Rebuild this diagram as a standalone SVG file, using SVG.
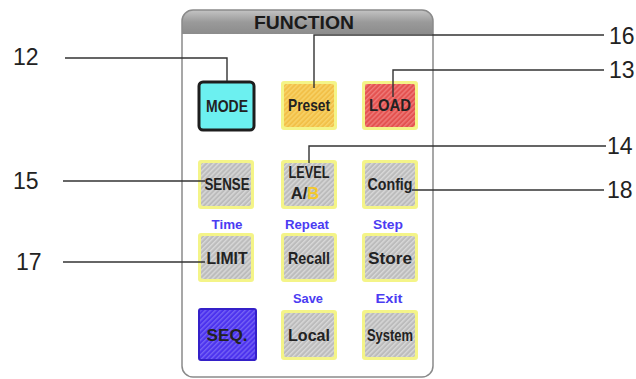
<svg xmlns="http://www.w3.org/2000/svg" width="636" height="379" viewBox="0 0 636 379">
<defs>
<linearGradient id="hdr" x1="0" y1="0" x2="0" y2="1">
<stop offset="0" stop-color="#c4c4c4"/>
<stop offset="0.5" stop-color="#9a9a9a"/>
<stop offset="1" stop-color="#8c8c8c"/>
</linearGradient>
<pattern id="hg" width="3.5" height="3.5" patternUnits="userSpaceOnUse" patternTransform="rotate(45)"><rect width="3.5" height="3.5" fill="#bcbcbc"/><rect width="1.4" height="3.5" fill="#d8d8d8"/></pattern>
<pattern id="hy" width="3.5" height="3.5" patternUnits="userSpaceOnUse" patternTransform="rotate(45)"><rect width="3.5" height="3.5" fill="#f2c048"/><rect width="1.4" height="3.5" fill="#f7d46a"/></pattern>
<pattern id="hr" width="3.5" height="3.5" patternUnits="userSpaceOnUse" patternTransform="rotate(45)"><rect width="3.5" height="3.5" fill="#e45250"/><rect width="1.4" height="3.5" fill="#ee7c7a"/></pattern>
<pattern id="hb" width="3.5" height="3.5" patternUnits="userSpaceOnUse" patternTransform="rotate(45)"><rect width="3.5" height="3.5" fill="#4c32ee"/><rect width="1.4" height="3.5" fill="#7462f4"/></pattern>
<clipPath id="panelclip"><rect x="182" y="10" width="251" height="367" rx="11"/></clipPath>
</defs>
<style>
.glow{fill:#f4f488}
.gray{fill:url(#hg)}
.bt{font-family:"Liberation Sans",Arial,sans-serif;font-weight:bold;font-size:16.5px;fill:#222;text-anchor:middle}
.blue{font-family:"Liberation Sans",Arial,sans-serif;font-weight:bold;font-size:13px;fill:#4b3cf2;text-anchor:middle}
.num{font-family:"Liberation Sans",Arial,sans-serif;font-size:23px;fill:#222}
.lead{fill:none;stroke:#333;stroke-width:1.4}
</style>
<rect width="636" height="379" fill="#fff"/>
<g id="panel">
<rect x="182" y="10" width="251" height="367" rx="11" fill="#fff"/>
<rect x="182" y="10" width="251" height="24" fill="url(#hdr)" clip-path="url(#panelclip)"/>
<rect x="182" y="10" width="251" height="367" rx="11" fill="none" stroke="#8a8a8a" stroke-width="1.5"/>
<text x="304" y="29" font-family="'Liberation Sans',Arial,sans-serif" font-weight="bold" font-size="18" fill="#1a1a1a" text-anchor="middle" textLength="100" lengthAdjust="spacingAndGlyphs">FUNCTION</text>
</g>
<g id="btn-mode">
<rect x="199" y="82" width="55" height="48" rx="4" fill="#6cf0f0" stroke="#1e1e1e" stroke-width="3"/>
<text class="bt" x="227" y="112" textLength="42" lengthAdjust="spacingAndGlyphs">MODE</text>
</g>
<g id="btn-preset">
<rect class="glow" x="281" y="81" width="56" height="49" rx="3"/>
<rect x="284" y="84" width="50" height="43" rx="2" fill="url(#hy)"/>
<text class="bt" x="309" y="111" textLength="42" lengthAdjust="spacingAndGlyphs">Preset</text>
</g>
<g id="btn-load">
<rect class="glow" x="362" y="81" width="56" height="49" rx="3"/>
<rect x="365" y="84" width="50" height="43" rx="2" fill="url(#hr)"/>
<text class="bt" x="390" y="111" textLength="42" lengthAdjust="spacingAndGlyphs">LOAD</text>
</g>
<g id="btn-sense">
<rect class="glow" x="198" y="160" width="56" height="49" rx="3"/>
<rect class="gray" x="201" y="163" width="50" height="43" rx="2"/>
<text class="bt" x="227" y="190" textLength="45" lengthAdjust="spacingAndGlyphs">SENSE</text>
</g>
<g id="btn-level">
<rect class="glow" x="281" y="160" width="56" height="49" rx="3"/>
<rect class="gray" x="284" y="163" width="50" height="43" rx="2"/>
<text class="bt" x="309" y="178" font-size="14" textLength="41" lengthAdjust="spacingAndGlyphs">LEVEL</text>
<text class="bt" x="305" y="199" font-size="15.5">A/<tspan fill="#f2c82a">B</tspan></text>
</g>
<g id="btn-config">
<rect class="glow" x="362" y="160" width="56" height="49" rx="3"/>
<rect class="gray" x="365" y="163" width="50" height="43" rx="2"/>
<text class="bt" x="390" y="190" textLength="45" lengthAdjust="spacingAndGlyphs">Config</text>
</g>
<g id="label-time"><text class="blue" x="227" y="229" textLength="31" lengthAdjust="spacingAndGlyphs">Time</text></g>
<g id="label-repeat"><text class="blue" x="307" y="229" textLength="44" lengthAdjust="spacingAndGlyphs">Repeat</text></g>
<g id="label-step"><text class="blue" x="388" y="229" textLength="30" lengthAdjust="spacingAndGlyphs">Step</text></g>
<g id="btn-limit">
<rect class="glow" x="198" y="233" width="56" height="49" rx="3"/>
<rect class="gray" x="201" y="236" width="50" height="43" rx="2"/>
<text class="bt" x="227" y="264" textLength="41" lengthAdjust="spacingAndGlyphs">LIMIT</text>
</g>
<g id="btn-recall">
<rect class="glow" x="281" y="233" width="56" height="49" rx="3"/>
<rect class="gray" x="284" y="236" width="50" height="43" rx="2"/>
<text class="bt" x="309" y="264" textLength="42" lengthAdjust="spacingAndGlyphs">Recall</text>
</g>
<g id="btn-store">
<rect class="glow" x="362" y="233" width="56" height="49" rx="3"/>
<rect class="gray" x="365" y="236" width="50" height="43" rx="2"/>
<text class="bt" x="390" y="264" textLength="44" lengthAdjust="spacingAndGlyphs">Store</text>
</g>
<g id="label-save"><text class="blue" x="308" y="303" textLength="30" lengthAdjust="spacingAndGlyphs">Save</text></g>
<g id="label-exit"><text class="blue" x="389" y="303" textLength="27" lengthAdjust="spacingAndGlyphs">Exit</text></g>
<g id="btn-seq">
<rect x="199" y="309" width="57" height="51" rx="2" fill="url(#hb)" stroke="#3420c8" stroke-width="2"/>
<text class="bt" x="227" y="341" textLength="41" lengthAdjust="spacingAndGlyphs">SEQ.</text>
</g>
<g id="btn-local">
<rect class="glow" x="281" y="310" width="56" height="50" rx="3"/>
<rect class="gray" x="284" y="313" width="50" height="44" rx="2"/>
<text class="bt" x="309" y="341" textLength="42" lengthAdjust="spacingAndGlyphs">Local</text>
</g>
<g id="btn-system">
<rect class="glow" x="362" y="310" width="56" height="50" rx="3"/>
<rect class="gray" x="365" y="313" width="50" height="44" rx="2"/>
<text class="bt" x="390" y="341" textLength="46" lengthAdjust="spacingAndGlyphs">System</text>
</g>
<g id="connectors">
<polyline class="lead" points="65,58 227,58 227,81"/>
<polyline class="lead" points="604,35 314,35 314,88"/>
<polyline class="lead" points="604,70 393,70 393,97"/>
<polyline class="lead" points="606,146 309,146 309,163"/>
<line class="lead" x1="63" y1="181" x2="205" y2="181"/>
<line class="lead" x1="412" y1="190" x2="604" y2="190"/>
<line class="lead" x1="63" y1="262" x2="205" y2="262"/>
</g>
<g id="callouts">
<text class="num" x="13" y="65">12</text>
<text class="num" x="13" y="189">15</text>
<text class="num" x="16" y="270">17</text>
<text class="num" x="609" y="44">16</text>
<text class="num" x="609" y="78">13</text>
<text class="num" x="607" y="154">14</text>
<text class="num" x="607" y="198">18</text>
</g>
</svg>
